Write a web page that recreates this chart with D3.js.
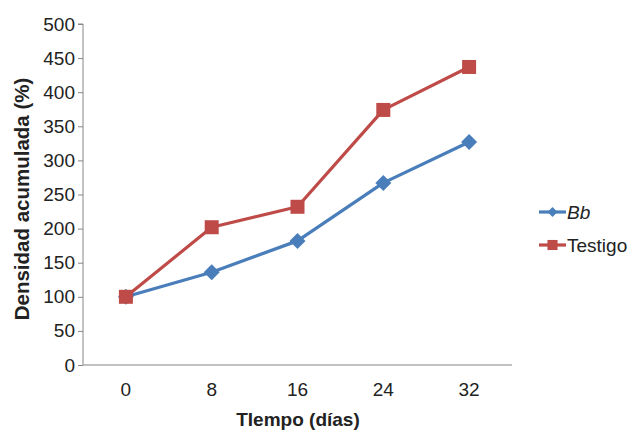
<!DOCTYPE html>
<html><head><meta charset="utf-8">
<script src="https://cdn.jsdelivr.net/npm/d3@7"></script>
<style>body{margin:0;background:#fff}text{font-family:"Liberation Sans",Arial,sans-serif}</style>
</head><body>
<svg id="c" width="644" height="432"></svg>
<script>
const categories = ["0","8","16","24","32"];
const bbValues = [100,136,182,267,327];
const testigoValues = [100,202,232,374,437];
const yTicks = [0,50,100,150,200,250,300,350,400,450,500];
const seriesNames = ["Bb","Testigo"];

const svg = d3.select("#c");
const x = d3.scaleBand().domain(categories).range([83,512]);
const y = d3.scaleLinear().domain([0,500]).range([365,24]);
const cx = d => x(d) + x.bandwidth()/2;
const FONT = "Liberation Sans, Arial, sans-serif";

// y axis
const ya = svg.append("g").attr("transform","translate(83,0)")
  .call(d3.axisLeft(y).tickValues(yTicks).tickSize(5).tickPadding(3));
ya.selectAll("line").attr("stroke","#868686");
ya.select(".domain").attr("stroke","#868686").attr("d","M-5,24H0V365");
ya.selectAll("text").attr("font-size","19px").attr("fill","#222").attr("font-family",FONT);

// x axis
const xa = svg.append("g").attr("transform","translate(0,365)")
  .call(d3.axisBottom(x).tickSize(0).tickPadding(18));
xa.select(".domain").attr("stroke","#868686").attr("d","M83,0H512");
xa.selectAll("text").attr("font-size","19px").attr("fill","#222").attr("font-family",FONT);

const series = [
  {name:seriesNames[0], vals:bbValues, color:"#4a7ebb", shape:"diamond"},
  {name:seriesNames[1], vals:testigoValues, color:"#be4b48", shape:"square"}
];
const line = d3.line().x((v,i)=>cx(categories[i])).y(v=>y(v));
series.forEach(s=>{
  svg.append("path").attr("d",line(s.vals)).attr("fill","none")
    .attr("stroke",s.color).attr("stroke-width",3.2).attr("stroke-linejoin","round");
});
function marker(g, shape, color, px, py, scale){
  if(shape==="square"){
    const h = 7*scale;
    g.append("rect").attr("x",px-h).attr("y",py-h).attr("width",2*h).attr("height",2*h).attr("fill",color);
  } else {
    const h = 8*scale;
    g.append("path").attr("d",`M${px},${py-h}L${px+h},${py}L${px},${py+h}L${px-h},${py}Z`).attr("fill",color);
  }
}
series.forEach(s=>{
  const g = svg.append("g");
  s.vals.forEach((v,i)=>marker(g,s.shape,s.color,cx(categories[i]),y(v),1));
});

// legend
series.forEach((s,i)=>{
  const ly = 212 + i*33;
  svg.append("line").attr("x1",539).attr("x2",566).attr("y1",ly).attr("y2",ly)
    .attr("stroke",s.color).attr("stroke-width",3.2);
  marker(svg, s.shape, s.color, 552.5, ly, s.shape==="square"?0.72:0.62);
  svg.append("text").attr("x",567).attr("y",ly+7).attr("font-size","19px").attr("fill","#222")
    .attr("font-style", i===0?"italic":"normal").text(s.name);
});

// axis titles
svg.append("text").attr("transform","translate(29,199) rotate(-90)").attr("text-anchor","middle")
  .attr("font-size","20.5px").attr("font-weight","bold").attr("fill","#222").text("Densidad acumulada (%)");
svg.append("text").attr("x",298).attr("y",426).attr("text-anchor","middle")
  .attr("font-size","19px").attr("font-weight","bold").attr("fill","#222").text("TIempo (días)");
</script>
</body></html>
